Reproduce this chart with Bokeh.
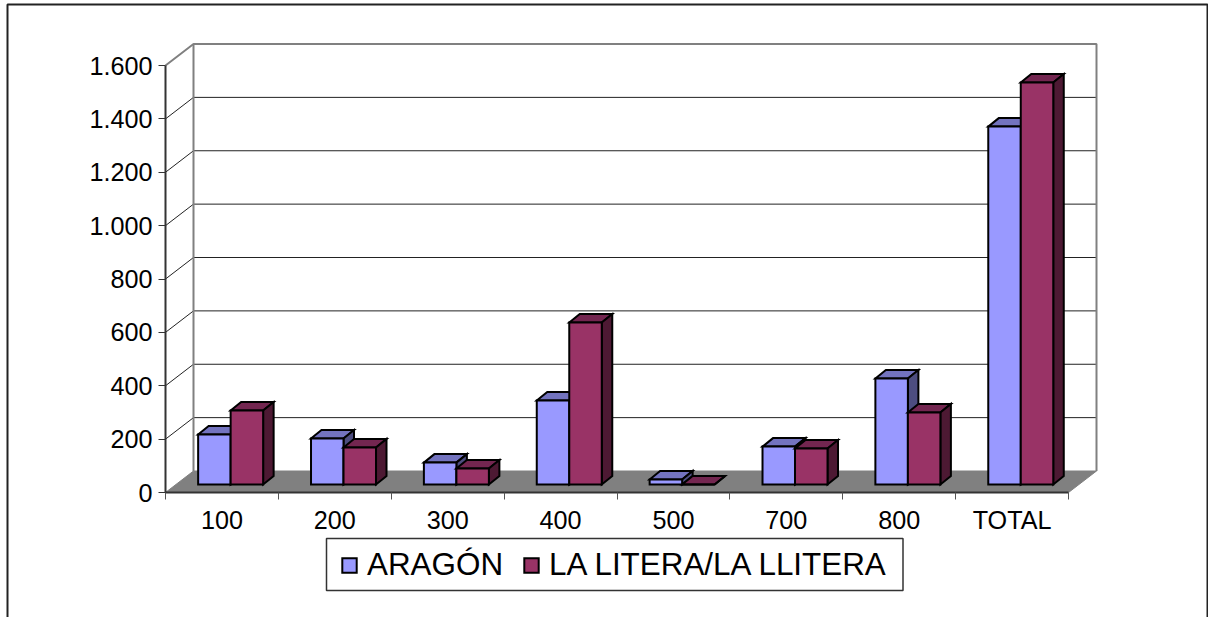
from bokeh.embed import file_html
from bokeh.resources import INLINE
from bokeh.plotting import figure
from bokeh.models import (Range1d, LinearAxis, FixedTicker, Legend, LegendItem)

# ---- data ----
categories = ["100", "200", "300", "400", "500", "700", "800", "TOTAL"]
aragon = [187, 172, 82, 315, 19, 142, 397, 1341]
litera = [277, 139, 60, 607, 0, 135, 270, 1506]
series_names = ["ARAGÓN", "LA LITERA/LA LLITERA"]
y_ticks = [0, 200, 400, 600, 800, 1000, 1200, 1400, 1600]
y_labels = ["0", "200", "400", "600", "800", "1.000", "1.200", "1.400", "1.600"]

# ---- layout (pixels in the window) ----
W, H = 1208, 617
LEFT, RIGHT = 165.0, 1068.0      # front plane, x
ZERO, TOP = 492.0, 65.0          # front plane, y
YMAX = 1600
px_x = (RIGHT - LEFT) / len(categories)
px_y = (ZERO - TOP) / YMAX

WALL_DX = 28 / px_x              # depth of the chart box, in data units
WALL_DY = 21.5 / px_y
FRONT_DX = 8.7 / px_x            # bars stand a little behind the front plane
FRONT_DY = 8 / px_y
BAR_DX = 10.5 / px_x             # depth of a bar
BAR_DY = 8.5 / px_y
BAR_W = 32.5 / px_x
GAP = (1 - 2 * BAR_W) / 2

AXIS = "#333333"
WALL = "#808080"
BLUE, BLUE_TOP, BLUE_SIDE = "#9999FF", "#7373BF", "#4D4D80"
RED, RED_TOP, RED_SIDE = "#993366", "#732650", "#4D1933"
FONT = "Liberation Sans"

p = figure(
    width=W, height=H, output_backend="svg", toolbar_location=None,
    x_axis_type=None, y_axis_type=None, min_border=0,
    x_range=Range1d(-LEFT / px_x, (W - LEFT) / px_x),
    y_range=Range1d((ZERO - H) / px_y, ZERO / px_y),
    background_fill_color="white", border_fill_color="white",
)
p.outline_line_color = None
p.grid.visible = False

def sx(px):
    return (px - LEFT) / px_x
def sy(px):
    return (ZERO - px) / px_y

# outer chart border, running off the canvas at the bottom
p.line([sx(7), sx(7), sx(1207), sx(1207)], [sy(700), sy(4), sy(4), sy(700)],
       line_color="#222222", line_width=2)

n = len(categories)
# floor
p.patch([0, WALL_DX, n + WALL_DX, n], [0, WALL_DY, WALL_DY, 0],
        fill_color=WALL, line_color=WALL, line_width=1)

# gridlines on back and side wall
grid = y_ticks[1:-1]
p.multi_line([[0, WALL_DX, n + WALL_DX] for _ in grid],
             [[v, v + WALL_DY, v + WALL_DY] for v in grid],
             line_color="#222222", line_width=1)

# box edges
p.line([0, WALL_DX, n + WALL_DX, n + WALL_DX],
       [YMAX, YMAX + WALL_DY, YMAX + WALL_DY, WALL_DY],
       line_color=WALL, line_width=2)
p.line([WALL_DX, WALL_DX], [WALL_DY, YMAX + WALL_DY], line_color=WALL, line_width=2)


def bars(values, offset, front, top, side):
    x0 = [i + GAP + FRONT_DX + offset * BAR_W for i in range(n)]
    x1 = [x + BAR_W for x in x0]
    y0 = [FRONT_DY] * n
    y1 = [FRONT_DY + v for v in values]
    common = dict(line_color="black", line_width=2, line_join="miter")
    p.patches([[a, a + BAR_DX, b + BAR_DX, b] for a, b in zip(x0, x1)],
              [[t, t + BAR_DY, t + BAR_DY, t] for t in y1],
              fill_color=top, **common)
    p.patches([[b, b + BAR_DX, b + BAR_DX, b] for b in x1],
              [[t, t + BAR_DY, y0[0] + BAR_DY, y0[0]] for t in y1],
              fill_color=side, **common)
    return p.quad(left=x0, right=x1, bottom=y0, top=y1, fill_color=front, **common)


r_blue = bars(aragon, 0, BLUE, BLUE_TOP, BLUE_SIDE)
r_red = bars(litera, 1, RED, RED_TOP, RED_SIDE)

# axes
yax = LinearAxis(fixed_location=0, bounds=(0, YMAX), ticker=FixedTicker(ticks=y_ticks),
                 major_label_overrides=dict(zip(y_ticks, y_labels)),
                 major_label_text_font=FONT, major_label_text_font_size="25.2px",
                 major_label_text_color="black", major_label_standoff=6,
                 axis_line_color=AXIS, axis_line_width=2,
                 major_tick_line_color=AXIS, major_tick_line_width=1,
                 major_tick_in=0, major_tick_out=7, minor_tick_line_color=None)
p.add_layout(yax, "left")

tick_pos = list(range(n + 1))
xticks = LinearAxis(fixed_location=0, bounds=(0, n), ticker=FixedTicker(ticks=tick_pos),
                    major_label_text_color=None, major_label_text_font_size="1px",
                    axis_line_color=AXIS, axis_line_width=2,
                    major_tick_line_color="#555555", major_tick_line_width=1,
                    major_tick_in=0, major_tick_out=7, minor_tick_line_color=None)
p.add_layout(xticks, "below")

centers = [i + 0.5 for i in range(n)]
xlab = LinearAxis(fixed_location=0, bounds=(0, n), ticker=FixedTicker(ticks=centers),
                  major_label_overrides=dict(zip(centers, categories)),
                  major_label_text_font=FONT, major_label_text_font_size="25.2px",
                  major_label_text_color="black", major_label_standoff=7,
                  axis_line_color=None, major_tick_line_color=None,
                  minor_tick_line_color=None)
p.add_layout(xlab, "below")

# legend box, with the legend itself drawn on top of it
p.quad(left=sx(326), right=sx(902.5), bottom=sy(590), top=sy(538),
       fill_color="white", line_color="#333333", line_width=1.5)
legend = Legend(items=[LegendItem(label=series_names[0], renderers=[r_blue]),
                       LegendItem(label=series_names[1], renderers=[r_red])],
                orientation="horizontal", location=(340, 34),
                label_text_font=FONT, label_text_font_size="31.4px",
                label_text_color="black", label_standoff=9,
                glyph_width=18, glyph_height=18, spacing=19,
                padding=8, margin=0,
                border_line_color=None, background_fill_color=None)
p.add_layout(legend, "center")

open("out.html", "w").write(file_html(p, INLINE))
